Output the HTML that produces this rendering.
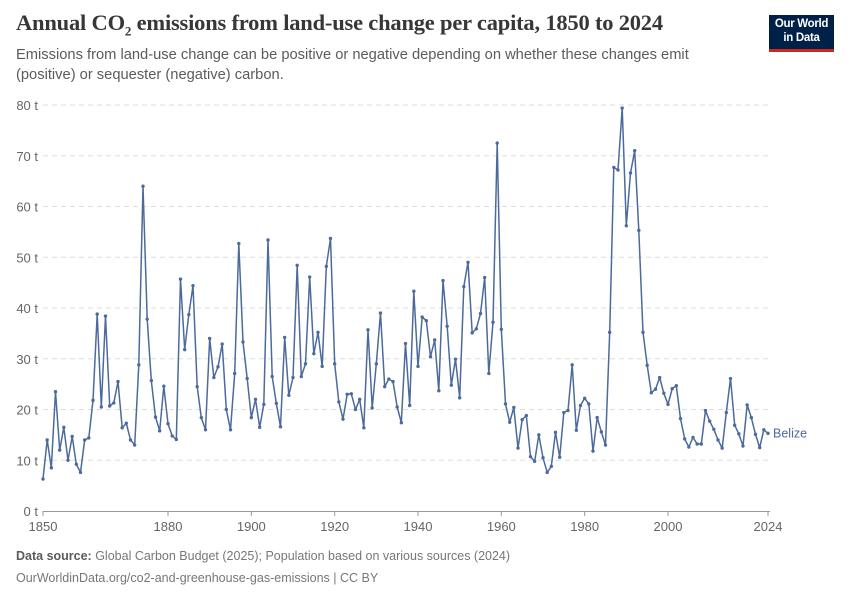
<!DOCTYPE html>
<html><head><meta charset="utf-8">
<style>
body{margin:0;background:#fff;width:850px;height:600px;overflow:hidden;font-family:"Liberation Sans",sans-serif;}
#title{position:absolute;left:16px;top:10px;font-family:"Liberation Serif",serif;font-size:22.5px;color:#373737;letter-spacing:-0.2px;margin:0;font-weight:bold}
#subtitle{position:absolute;left:16px;top:46px;font-size:14.7px;color:#5b5b5b;line-height:19.5px;width:720px}
#logo{position:absolute;left:769px;top:15px;width:65px;height:37px;background:#002147;border-bottom:3px solid #ce261e;color:#fff;font-size:11.5px;font-weight:bold;letter-spacing:-0.3px;text-align:center;line-height:13.5px;padding-top:3px;box-sizing:border-box}
#foot{position:absolute;left:16px;top:545px;font-size:12.5px;color:#777;line-height:22px}
</style></head><body>
<h1 id="title">Annual CO<sub style="font-size:13px">2</sub> emissions from land-use change per capita, 1850 to 2024</h1>
<div id="subtitle">Emissions from land-use change can be positive or negative depending on whether these changes emit (positive) or sequester (negative) carbon.</div>
<div id="logo">Our World<br>in Data</div>
<svg id="chart" width="850" height="600" style="position:absolute;left:0;top:0"></svg>
<div id="foot"><b style="color:#5b5b5b">Data source:</b> Global Carbon Budget (2025); Population based on various sources (2024)<br>OurWorldinData.org/co2-and-greenhouse-gas-emissions | CC BY</div>
<script>
const years=[];for(let y=1850;y<=2024;y++)years.push(y);
const values=[6.3,14,8.5,23.5,12,16.5,10,14.7,9.2,7.6,14,14.4,21.8,38.8,20.5,38.4,20.7,21.3,25.5,16.4,17.3,14,13,28.8,64,37.8,25.7,18.5,15.8,24.6,17.2,14.8,14.1,45.7,31.8,38.7,44.4,24.5,18.4,16,34,26.3,28.4,32.9,20,16,27.1,52.7,33.3,26.1,18.4,22,16.5,21,53.4,26.5,21.2,16.6,34.2,22.8,26.3,48.4,26.5,29,46.1,31,35.2,28.5,48.2,53.7,29,21.5,18.1,23,23.1,20,22,16.4,35.7,20.3,29,39,24.5,26,25.5,20.5,17.4,33,20.8,43.3,28.5,38.2,37.5,30.4,33.7,23.7,45.4,36.4,24.8,29.9,22.3,44.2,49,35.1,35.9,38.9,46,27.1,37.2,72.5,35.8,21.1,17.5,20.4,12.4,18,18.8,10.7,9.8,15,10.5,7.6,8.8,15.5,10.6,19.4,19.8,28.8,15.9,20.8,22.2,21.1,11.8,18.4,15.6,13,35.2,67.7,67.2,79.4,56.2,66.6,71,55.3,35.2,28.7,23.3,24,26.3,23.2,21,24.1,24.7,18.2,14.2,12.6,14.5,13.2,13.2,19.8,17.7,16.1,14,12.4,19.4,26.1,16.9,15.2,12.8,20.9,18.4,15.1,12.5,16,15.3];
const yTicks=[0,10,20,30,40,50,60,70,80];
const xTicks=[1850,1880,1900,1920,1940,1960,1980,2000,2024];
const NS="http://www.w3.org/2000/svg";
const svg=document.getElementById('chart');
const X=y=>43+(y-1850)*(725/174);
const Y=v=>511-v*(406/80);
function mk(t,a){const e=document.createElementNS(NS,t);for(const k in a)e.setAttribute(k,a[k]);svg.appendChild(e);return e;}
yTicks.forEach(v=>{
  if(v>0){const l=mk('line',{x1:43,x2:770,y1:Y(v),y2:Y(v),stroke:'#ddd','stroke-dasharray':'5,4'});
  
  }
  const t=mk('text',{x:38,y:Y(v)+5,'text-anchor':'end','font-size':13,fill:'#666','font-family':'Liberation Sans'});
  t.textContent=v+' t';
  
  
});
const ax=mk('line',{x1:43,x2:770,y1:511.5,y2:511.5,stroke:'#999'});


xTicks.forEach(y=>{
  const tk=mk('line',{x1:X(y),x2:X(y),y1:511,y2:516,stroke:'#999'});
  
  
  const t=mk('text',{x:X(y),y:531,'text-anchor':'middle','font-size':13,fill:'#666','font-family':'Liberation Sans'});
  t.textContent=y;
  
  
});
const pts=years.map((y,i)=>X(y).toFixed(1)+','+Y(values[i]).toFixed(1)).join(' ');
const line=mk('polyline',{points:pts,fill:'none',stroke:'#4c6a9c','stroke-width':1.5,'stroke-linejoin':'round'});


years.forEach((y,i)=>{
  const c=mk('circle',{cx:X(y),cy:Y(values[i]),r:1.7,fill:'#4c6a9c'});
  
  
});
const lab=mk('text',{x:X(2024)+5,y:Y(values[values.length-1])+4,'font-size':12.5,fill:'#4c6a9c','font-family':'Liberation Sans'});
lab.textContent='Belize';


</script>
</body></html>
